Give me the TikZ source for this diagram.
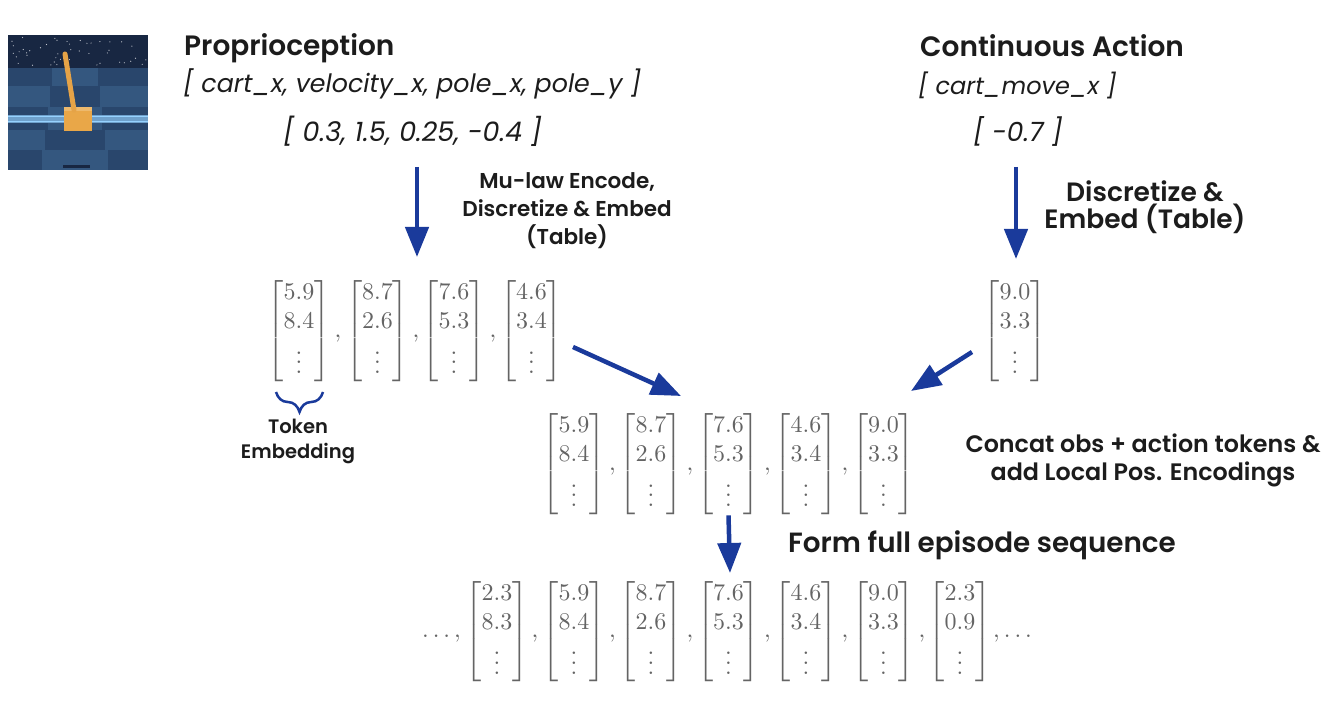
\documentclass[tikz,border=0pt]{standalone}
\usepackage{amsmath}
\usepackage{graphicx}
\usepackage{fontspec}
\newfontfamily\labfont{Poppins}
\IfFontExistsTF{Poppins SemiBold}{\newfontfamily\labb{Poppins SemiBold}}{%
  \IfFontExistsTF{Poppins Medium}{\newfontfamily\labb{Poppins Medium}}{\newcommand\labb{\labfont\bfseries}}}
\usetikzlibrary{arrows.meta,decorations.pathreplacing}
\definecolor{arrblue}{RGB}{26,58,155}
\definecolor{txt}{RGB}{28,28,28}
\definecolor{matgray}{RGB}{100,100,100}
\definecolor{sky}{RGB}{24,39,66}
\definecolor{flA}{RGB}{52,87,127}
\definecolor{flB}{RGB}{41,70,108}
\definecolor{rail}{RGB}{150,210,255}
\definecolor{cart}{RGB}{233,167,72}
\newcommand{\mvec}[2]{\scalebox{2.4}{$\begin{bmatrix}#1\\#2\\\vdots\end{bmatrix}$}}
\newcommand{\mcomma}{\scalebox{2.4}{$,$}}
\begin{document}
\begin{tikzpicture}[x=1pt,y=-1pt,
  mat/.style={inner sep=0pt, text=matgray},
  commanode/.style={inner sep=0pt, anchor=base, text=matgray},
  hd/.style={inner sep=0pt, anchor=base west, text=txt, font=\labb\fontsize{28}{32}\selectfont},
  itx/.style={inner sep=0pt, anchor=base west, text=txt, font=\labfont\itshape\fontsize{25.3}{30}\selectfont},
  lbl/.style={inner sep=0pt, align=center, text=txt},
  arr/.style={draw=arrblue, line width=4.5pt, -{Triangle[length=30pt,width=23pt]}},
]
\useasboundingbox (0,0) rectangle (1332,703);
\fill[white] (0,0) rectangle (1332,703);

% ---- cartpole picture ----
\begin{scope}
\clip (8,35) rectangle (148,170);
\fill[flA] (8,35) rectangle (148,170);
\fill[sky] (8,35) rectangle (148,68);
\pgfmathsetseed{7}
\foreach \i in {1,...,45} {\fill[white!75!sky] ({8+140*rnd},{37+29*rnd}) circle (0.6);}
% checker floor
\fill[flB] (8,68) rectangle (52,86);
\fill[flB] (98,68) rectangle (148,86);
\fill[flB] (50,86) rectangle (100,107);
\fill[flB] (8,107) rectangle (48,130);
\fill[flB] (102,107) rectangle (148,130);
\fill[flB] (45,130) rectangle (105,150);
\fill[flB] (8,150) rectangle (42,170);
\fill[flB] (108,150) rectangle (148,170);
% rails
\fill[rail!60!flA] (8,115) rectangle (148,123);
\draw[rail, line width=1.6pt] (8,116.5) -- (148,116.5);
\draw[rail, line width=1.6pt] (8,121.5) -- (148,121.5);
% cart and pole
\fill[cart] (64,107) rectangle (92,131);
\fill[cart!80!white] (64,107) rectangle (92,111);
\draw[cart!90!brown, line width=5pt, line cap=round] (74,110) -- (65,54);
\fill[sky] (63,165) rectangle (90,168);
\end{scope}

% ---- texts ----
\node[hd] (prophd) at (184,56) {Proprioception};
\node[itx] (propvars) at (183,93) {[ cart\_x, velocity\_x, pole\_x, pole\_y ]};
\node[itx, font=\labfont\itshape\fontsize{27}{30}\selectfont] (propvals) at (283,142) {[ 0.3, 1.5, 0.25, -0.4 ]};
\node[hd] (acthd) at (920,57) {Continuous Action};
\node[itx, font=\labfont\itshape\fontsize{24}{30}\selectfont] (actvars) at (918,95) {[ cart\_move\_x ]};
\node[itx, font=\labfont\itshape\fontsize{26.5}{30}\selectfont] (actvals) at (973,142) {[ -0.7 ]};

\node[lbl, font=\labb\fontsize{21.5}{28}\selectfont] (mulaw) at (567,211) {Mu-law Encode,\\Discretize \& Embed\\(Table)};
\node[lbl, font=\labb\fontsize{26.5}{27}\selectfont] (disc) at (1145,207) {Discretize \&\\Embed (Table)};
\node[lbl, font=\labb\fontsize{23.8}{28}\selectfont] (concat) at (1143,460) {Concat obs + action tokens \&\\add Local Pos. Encodings};
\node[hd, font=\labb\fontsize{27.8}{32}\selectfont] (form) at (788,552) {Form full episode sequence};
\node[lbl, font=\labb\fontsize{19.5}{25}\selectfont] (tok) at (298,441) {Token\\Embedding};

% ---- row 1: proprioception tokens ----
\node[mat] (p1) at (299,331) {\mvec{5.9}{8.4}};
\node[mat] (p2) at (377.5,331) {\mvec{8.7}{2.6}};
\node[mat] (p3) at (454,331) {\mvec{7.6}{5.3}};
\node[mat] (p4) at (531.5,331) {\mvec{4.6}{3.4}};
\node[commanode] (pc1) at (338,337) {\mcomma};
\node[commanode] (pc2) at (416,337) {\mcomma};
\node[commanode] (pc3) at (493,337) {\mcomma};
\node[mat] (a1) at (1015,331) {\mvec{9.0}{3.3}};

% brace
\draw[arrblue, line width=2.5pt, decorate, decoration={brace, mirror, amplitude=20pt}] (276,392) -- (323,392);

% ---- row 2: concatenated ----
\node[mat] (c1) at (574,464) {\mvec{5.9}{8.4}};
\node[mat] (c2) at (651,464) {\mvec{8.7}{2.6}};
\node[mat] (c3) at (728.5,464) {\mvec{7.6}{5.3}};
\node[mat] (c4) at (806,464) {\mvec{4.6}{3.4}};
\node[mat] (c5) at (883.5,464) {\mvec{9.0}{3.3}};
\node[commanode] (cc1) at (612.5,470) {\mcomma};
\node[commanode] (cc2) at (690,470) {\mcomma};
\node[commanode] (cc3) at (767.5,470) {\mcomma};
\node[commanode] (cc4) at (845,470) {\mcomma};

% ---- row 3: full sequence ----
\node[commanode, anchor=base east] (sl) at (461,637.5) {\scalebox{2.4}{$\ldots,$}};
\node[mat] (s1) at (497,631.5) {\mvec{2.3}{8.3}};
\node[mat] (s2) at (574,631.5) {\mvec{5.9}{8.4}};
\node[mat] (s3) at (651,631.5) {\mvec{8.7}{2.6}};
\node[mat] (s4) at (728.5,631.5) {\mvec{7.6}{5.3}};
\node[mat] (s5) at (806,631.5) {\mvec{4.6}{3.4}};
\node[mat] (s6) at (883.5,631.5) {\mvec{9.0}{3.3}};
\node[mat] (s7) at (960,631.5) {\mvec{2.3}{0.9}};
\node[commanode] (sc1) at (535,637.5) {\mcomma};
\node[commanode] (sc2) at (612.5,637.5) {\mcomma};
\node[commanode] (sc3) at (690,637.5) {\mcomma};
\node[commanode] (sc4) at (767.5,637.5) {\mcomma};
\node[commanode] (sc5) at (845,637.5) {\mcomma};
\node[commanode] (sc6) at (922,637.5) {\mcomma};
\node[commanode, anchor=base west] (sr) at (993,637.5) {\scalebox{2.4}{$,\ldots$}};

% ---- arrows ----
\coordinate (A1s) at (417,167);
\coordinate (A1e) at (417,257);
\coordinate (A2s) at (1016,167);
\coordinate (A2e) at (1016,259);
\coordinate (A3s) at (573,347);
\coordinate (A3e) at (681,396);
\coordinate (A4s) at (972,352);
\coordinate (A4e) at (911,391);
\coordinate (A5e) at (730,573);
\draw[arr] (A1s) -- (A1e);
\draw[arr] (A2s) -- (A2e);
\draw[arr] (A3s) -- (A3e);
\draw[arr] (A4s) -- (A4e);
\draw[arr] (c3.south) -- (A5e);
\end{tikzpicture}
\end{document}
